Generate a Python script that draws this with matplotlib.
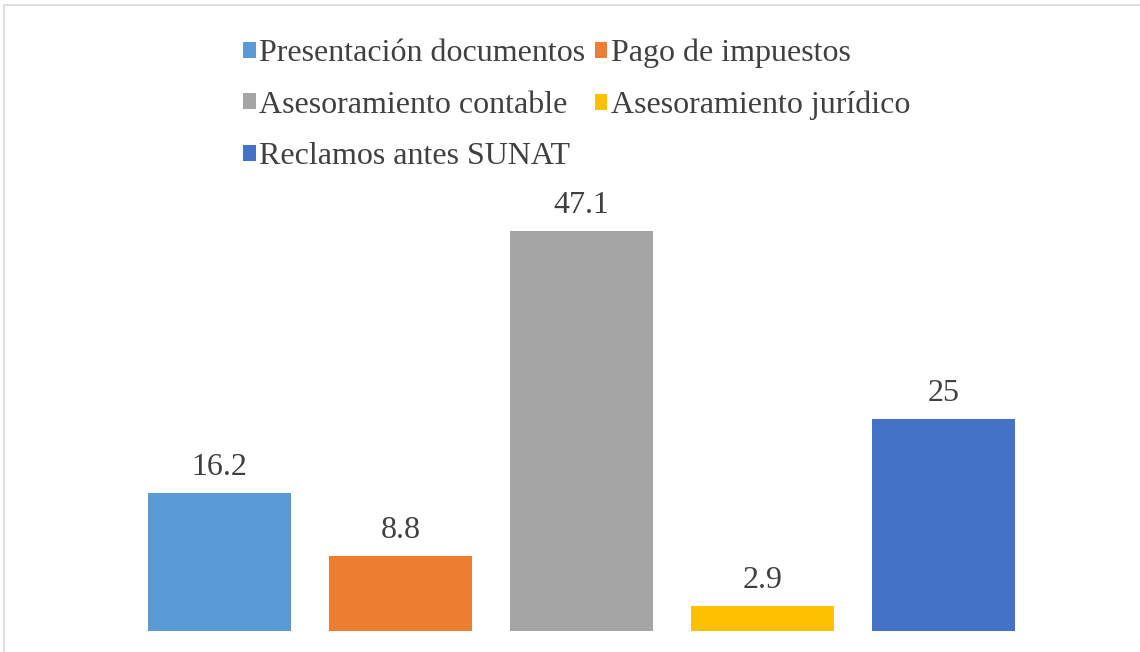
import matplotlib.pyplot as plt
from matplotlib.patches import Patch, Rectangle

categorias = ['Presentación documentos', 'Pago de impuestos', 'Asesoramiento contable',
              'Asesoramiento jurídico', 'Reclamos antes SUNAT']
valores = [16.2, 8.8, 47.1, 2.9, 25]
colores = ['#5B9BD5', '#ED7D31', '#A5A5A5', '#FFC000', '#4472C4']
etiquetas = ['16.2', '8.8', '47.1', '2.9', '25']

plt.rcParams['font.family'] = ['Liberation Serif', 'DejaVu Serif']

fig = plt.figure(figsize=(11.4, 6.52), dpi=100)
fig.patches.append(Rectangle((4 / 1140, -0.1), 1.2, (652 - 5) / 652 + 0.1,
                             transform=fig.transFigure, fill=False,
                             edgecolor='#D9D9D9', linewidth=1.2))

# axes: x from -0.5 to 4.5 over px 129..1034, y baseline at px 631
ax = fig.add_axes([129 / 1140, (652 - 631) / 652, 905 / 1140, 467 / 652])
x = range(len(valores))
ax.bar(x, valores, width=0.79, color=colores)
for i, v in enumerate(valores):
    ax.text(i, v + 1.3, etiquetas[i], ha='center', va='bottom',
            fontsize=23, color='#404040')
ax.set_xlim(-0.5, 4.5)
ax.set_ylim(0, 55)
ax.axis('off')

orden = [0, 2, 4, 1, 3]
handles = [Patch(facecolor=colores[i]) for i in orden]
labels = [categorias[i] for i in orden]
leg = fig.legend(handles, labels, ncol=2, loc='upper left',
                 bbox_to_anchor=(227 / 1140, 1 - 23 / 652), frameon=False,
                 fontsize=23, labelcolor='#404040', handlelength=0.4,
                 handleheight=0.4, handletextpad=0.1, columnspacing=0.3,
                 labelspacing=0.7, borderpad=0)

fig.savefig('out.png', dpi=100)
